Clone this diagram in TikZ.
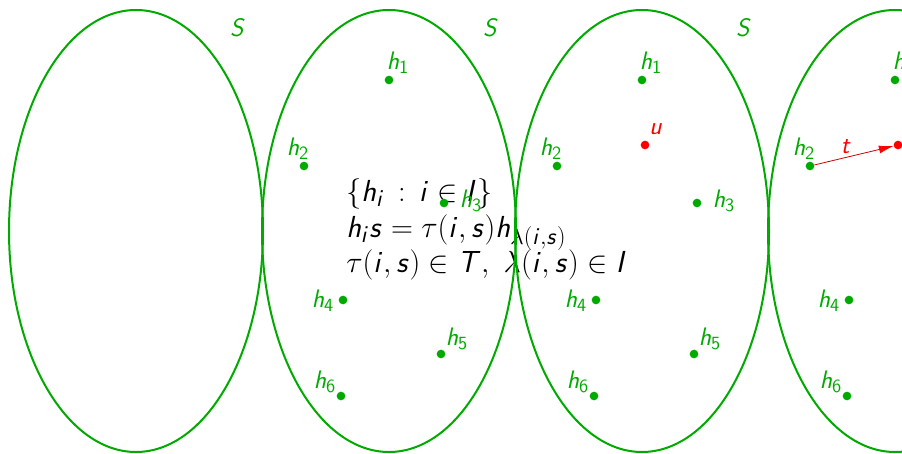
\RequirePackage{fix-cm}
\documentclass[tikz,border=0pt]{standalone}
\usetikzlibrary{arrows.meta}
\DeclareSymbolFont{sfit}{OT1}{cmss}{m}{sl}
\DeclareSymbolFont{sfup}{OT1}{cmss}{m}{n}
\DeclareMathSymbol{h}{\mathalpha}{sfit}{`h}
\DeclareMathSymbol{i}{\mathalpha}{sfit}{`i}
\DeclareMathSymbol{s}{\mathalpha}{sfit}{`s}
\DeclareMathSymbol{t}{\mathalpha}{sfit}{`t}
\DeclareMathSymbol{u}{\mathalpha}{sfit}{`u}
\DeclareMathSymbol{I}{\mathalpha}{sfit}{`I}
\DeclareMathSymbol{T}{\mathalpha}{sfit}{`T}
\DeclareMathSymbol{S}{\mathalpha}{sfit}{`S}
\DeclareMathSymbol{1}{\mathalpha}{sfup}{`1}
\DeclareMathSymbol{2}{\mathalpha}{sfup}{`2}
\DeclareMathSymbol{3}{\mathalpha}{sfup}{`3}
\DeclareMathSymbol{4}{\mathalpha}{sfup}{`4}
\DeclareMathSymbol{5}{\mathalpha}{sfup}{`5}
\DeclareMathSymbol{6}{\mathalpha}{sfup}{`6}
\DeclareMathSizes{22.8}{22.8}{18}{14}
\DeclareMathSizes{19}{19}{14}{11}
\definecolor{grn}{RGB}{0,170,0}
\definecolor{rd}{RGB}{255,0,0}
\begin{document}
\begin{tikzpicture}[x=0.75pt,y=-0.75pt,
  ell/.style={draw=grn, line width=1.5pt},
  dot/.style={circle, fill=grn, inner sep=0pt, minimum size=6.5pt},
  rdot/.style={dot, fill=rd},
  lab/.style={text=grn, inner sep=0pt, font=\fontsize{19}{22}\selectfont},
  rlab/.style={lab, text=rd},
  big/.style={anchor=base west, inner sep=0pt, font=\fontsize{22.8}{26}\selectfont},
  arr/.style={draw=red!80!black, line width=0.6pt, -{Latex[length=11pt,width=6pt,color=rd,fill=rd]}}]
\useasboundingbox (0,0) rectangle (902,453);
\clip (0,0) rectangle (902,453);
% text block
\node[big] (l1) at (346,201) {$\{h_i\,:\,i\in I\}$};
\node[big] (l2) at (346,237) {$h_is=\tau(i,s)h_{\lambda(i,s)}$};
\node[big] (l3) at (346,272) {$\tau(i,s)\in T,\ \lambda(i,s)\in I$};
% ellipses
\foreach \cx in {136,389,642,895}
  \draw[ell] (\cx,231) ellipse [x radius=127, y radius=221];
\foreach \cx/\n in {238/a,491/b,744/c}
  \node[lab] (S\n) at (\cx,28) {$S$};
% points in ellipses b and c
\foreach \e/\dx in {b/0,c/253}{
  \node[dot] (\e1) at (389+\dx,80) {};
  \node[dot] (\e2) at (304+\dx,166) {};
  \node[dot] (\e3) at (444+\dx,203) {};
  \node[dot] (\e4) at (343+\dx,300) {};
  \node[dot] (\e5) at (441+\dx,354) {};
  \node[dot] (\e6) at (341+\dx,396) {};
  \node[lab] (L\e1) at (398+\dx,63) {$h_1$};
  \node[lab] (L\e2) at (298+\dx,149) {$h_2$};
  \node[lab] (L\e3) at (471+\dx,201) {$h_3$};
  \node[lab] (L\e4) at (323+\dx,301) {$h_4$};
  \node[lab] (L\e5) at (457+\dx,339) {$h_5$};
  \node[lab] (L\e6) at (325+\dx,382) {$h_6$};
}
\node[rdot] (cu) at (645,145) {};
\node[rlab] (Lcu) at (656,129) {$u$};
% ellipse d
\node[dot] (d1) at (895,80) {};
\node[dot] (d2) at (810,166) {};
\node[dot] (d4) at (849,300) {};
\node[dot] (d6) at (847,396) {};
\node[lab] (Ld1) at (904,63) {$h_1$};
\node[lab] (Ld2) at (804,149) {$h_2$};
\node[lab] (Ld4) at (829,301) {$h_4$};
\node[lab] (Ld6) at (831,382) {$h_6$};
\node[rdot] (du) at (898,145) {};
\draw[arr] (d2) -- (du);
\node[rlab] (tl) at (846,146) {$t$};
\end{tikzpicture}
\end{document}
